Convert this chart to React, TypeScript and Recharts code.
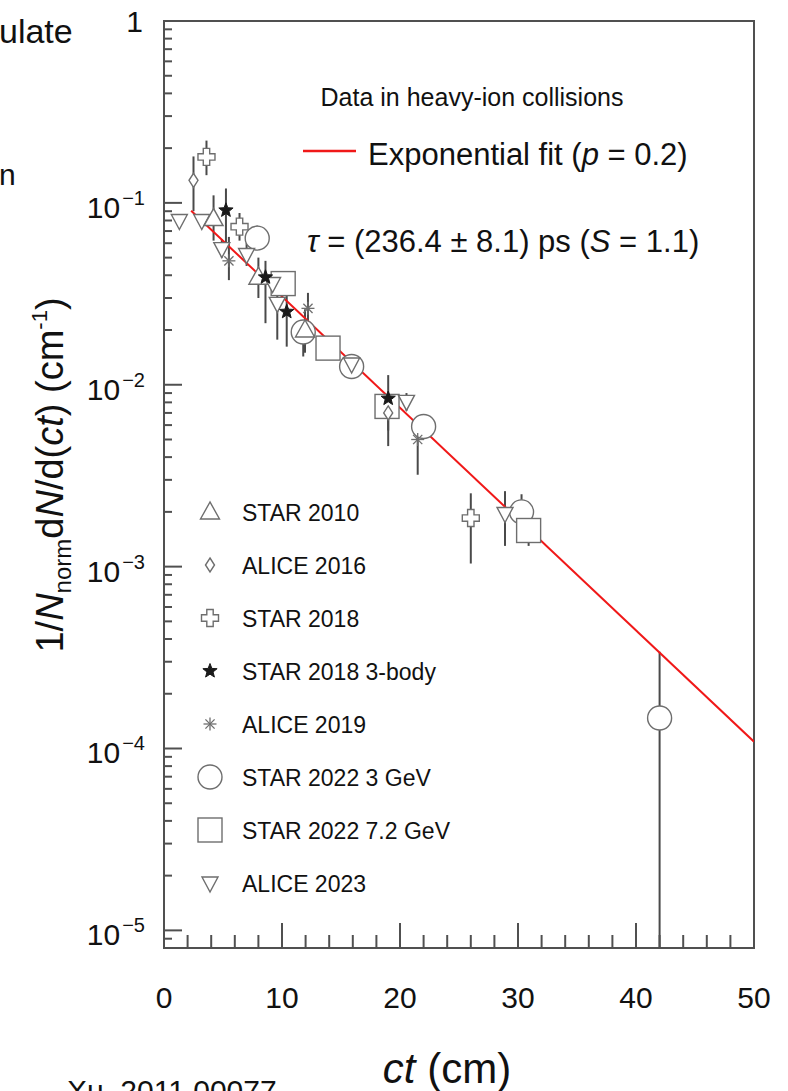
import React from 'react';
import { ComposedChart, Scatter, Line, XAxis, YAxis, ErrorBar, ReferenceArea } from 'recharts';

type Pt = [number, number, number, number];

// [ct (cm), value, lower edge of bar, upper edge of bar]
const star2010: Pt[] = [
  [4.2, 0.082, 0.062, 0.11],
  [8.0, 0.039, 0.03, 0.05],
  [11.95, 0.02, 0.015, 0.026],
];
const alice2016: Pt[] = [
  [2.5, 0.133, 0.09, 0.18],
  [19.0, 0.007, 0.0056, 0.0088],
];
const star2018: Pt[] = [
  [3.6, 0.179, 0.142, 0.22],
  [6.4, 0.074, 0.062, 0.088],
  [26.0, 0.00185, 0.00104, 0.00253],
];
const star2018Body3: Pt[] = [
  [5.25, 0.091, 0.059, 0.12],
  [8.6, 0.039, 0.0218, 0.048],
  [10.4, 0.0252, 0.0162, 0.031],
  [19.0, 0.0084, 0.0046, 0.0113],
];
const alice2019: Pt[] = [
  [5.5, 0.048, 0.0376, 0.065],
  [12.2, 0.0263, 0.0209, 0.032],
  [21.5, 0.005, 0.0032, 0.0062],
];
const star2022_3GeV: Pt[] = [
  [7.9, 0.064, 0.055, 0.075],
  [11.8, 0.0195, 0.0143, 0.022],
  [15.9, 0.0126, 0.011, 0.0145],
  [22.0, 0.0059, 0.0051, 0.0068],
  [30.3, 0.002, 0.0016, 0.0025],
  [42.0, 0.000147, 0.000008, 0.00034],
];
const star2022_72GeV: Pt[] = [
  [10.1, 0.036, 0.031, 0.041],
  [13.9, 0.0159, 0.0138, 0.0182],
  [18.9, 0.0076, 0.0066, 0.0087],
  [30.9, 0.00158, 0.0013, 0.0019],
];
const alice2023: Pt[] = [
  [1.3, 0.08, 0.078, 0.082],
  [3.2, 0.08, 0.077, 0.083],
  [4.9, 0.056, 0.05, 0.063],
  [7.0, 0.052, 0.045, 0.06],
  [9.2, 0.036, 0.032, 0.04],
  [9.6, 0.028, 0.0177, 0.0376],
  [15.9, 0.013, 0.0118, 0.0143],
  [20.55, 0.0081, 0.0072, 0.009],
  [28.9, 0.00196, 0.0013, 0.0026],
];

// exponential fit, straight on the log axis: end points
const fitLine = [
  { x: 2.3, y: 0.0905 },
  { x: 50, y: 0.000109 },
];

const xTicks = [0, 2, 4, 6, 8, 10, 12, 14, 16, 18, 20, 22, 24, 26, 28, 30, 32, 34, 36, 38, 40, 42, 44, 46, 48, 50];
const yTicks = [
  9e-6, 1e-5, 2e-5, 3e-5, 4e-5, 5e-5, 6e-5, 7e-5, 8e-5, 9e-5,
  1e-4, 2e-4, 3e-4, 4e-4, 5e-4, 6e-4, 7e-4, 8e-4, 9e-4,
  1e-3, 2e-3, 3e-3, 4e-3, 5e-3, 6e-3, 7e-3, 8e-3, 9e-3,
  1e-2, 2e-2, 3e-2, 4e-2, 5e-2, 6e-2, 7e-2, 8e-2, 9e-2,
  1e-1, 2e-1, 3e-1, 4e-1, 5e-1, 6e-1, 7e-1, 8e-1, 9e-1, 1,
];

const FONT = '"Liberation Sans", Arial, Helvetica, sans-serif';
const AXIS = '#505050';
const MARK = '#6e6e6e';

type Kind = 'tri' | 'dia' | 'cross' | 'fstar' | 'ast' | 'circ' | 'sq' | 'itri';

const series: { name: string; data: Pt[]; kind: Kind }[] = [
  { name: 'STAR 2010', data: star2010, kind: 'tri' },
  { name: 'ALICE 2016', data: alice2016, kind: 'dia' },
  { name: 'STAR 2018', data: star2018, kind: 'cross' },
  { name: 'STAR 2018 3-body', data: star2018Body3, kind: 'fstar' },
  { name: 'ALICE 2019', data: alice2019, kind: 'ast' },
  { name: 'STAR 2022 3 GeV', data: star2022_3GeV, kind: 'circ' },
  { name: 'STAR 2022 7.2 GeV', data: star2022_72GeV, kind: 'sq' },
  { name: 'ALICE 2023', data: alice2023, kind: 'itri' },
];

// big open markers first so the small ones stay visible on top
const drawOrder: Kind[] = ['circ', 'sq', 'itri', 'tri', 'cross', 'dia', 'ast', 'fstar'];

const toRows = (pts: Pt[]) => pts.map(([x, y, lo, hi]) => ({ x, y, err: [y - lo, hi - y] }));

const Marker = ({ kind, cx, cy }: { kind: Kind; cx: number; cy: number }) => {
  const common = { fill: '#fff', stroke: MARK, strokeWidth: 1.4 };
  switch (kind) {
    case 'tri':
      return <polygon points={`${cx},${cy - 10} ${cx - 9.5},${cy + 7} ${cx + 9.5},${cy + 7}`} {...common} />;
    case 'itri':
      return <polygon points={`${cx},${cy + 9} ${cx - 8},${cy - 6} ${cx + 8},${cy - 6}`} {...common} />;
    case 'dia':
      return <polygon points={`${cx},${cy - 7} ${cx + 4.5},${cy} ${cx},${cy + 7} ${cx - 4.5},${cy}`} {...common} />;
    case 'cross': {
      const a = 3.2, b = 8.5;
      const d = `M${cx - a},${cy - b}H${cx + a}V${cy - a}H${cx + b}V${cy + a}H${cx + a}V${cy + b}H${cx - a}V${cy + a}H${cx - b}V${cy - a}H${cx - a}Z`;
      return <path d={d} {...common} />;
    }
    case 'fstar': {
      const pts: string[] = [];
      for (let i = 0; i < 10; i++) {
        const r = i % 2 === 0 ? 7.5 : 3.2;
        const ang = -Math.PI / 2 + (i * Math.PI) / 5;
        pts.push(`${cx + r * Math.cos(ang)},${cy + r * Math.sin(ang)}`);
      }
      return <polygon points={pts.join(' ')} fill="#1a1a1a" stroke="#1a1a1a" strokeWidth={1} />;
    }
    case 'ast': {
      const r = 6.5, q = r * 0.707;
      return (
        <g stroke={MARK} strokeWidth={1.3}>
          <line x1={cx - r} y1={cy} x2={cx + r} y2={cy} />
          <line x1={cx} y1={cy - r} x2={cx} y2={cy + r} />
          <line x1={cx - q} y1={cy - q} x2={cx + q} y2={cy + q} />
          <line x1={cx - q} y1={cy + q} x2={cx + q} y2={cy - q} />
        </g>
      );
    }
    case 'circ':
      return <circle cx={cx} cy={cy} r={12} {...common} />;
    case 'sq':
      return <rect x={cx - 12} y={cy - 12} width={24} height={24} {...common} />;
  }
  return null;
};

const XTick = (props: any) => {
  const { x, y, payload } = props;
  const v = payload.value as number;
  const major = v % 10 === 0;
  return (
    <g>
      <line x1={x} x2={x} y1={y} y2={y - (major ? 25 : 13)} stroke={AXIS} strokeWidth={2} />
      {major && (
        <text x={x} y={y + 60} textAnchor="middle" fontSize={30} fontFamily={FONT} fill="#111">
          {v}
        </text>
      )}
    </g>
  );
};

const YTick = (props: any) => {
  const { x, y, payload } = props;
  const v = payload.value as number;
  const e = Math.log10(v);
  const major = Math.abs(e - Math.round(e)) < 1e-6;
  const exp = Math.round(e);
  return (
    <g>
      <line x1={x} x2={x + (major ? 18 : 8)} y1={y} y2={y} stroke={AXIS} strokeWidth={2} />
      {major && exp === 0 && (
        <text x={x - 21} y={y + 11} textAnchor="end" fontSize={30} fontFamily={FONT} fill="#111">1</text>
      )}
      {major && exp !== 0 && (
        <text x={x - 19} y={y + 15} textAnchor="end" fontSize={30} fontFamily={FONT} fill="#111">
          10<tspan fontSize={20} dx={2} dy={-13}>{'\u2212' + Math.abs(exp)}</tspan>
        </text>
      )}
    </g>
  );
};

const App = () => {
  const legendY0 = 512;
  const legendStep = 53;
  return (
    <div style={{ position: 'absolute', left: 0, top: 0, width: 788, height: 1091, background: '#fff', overflow: 'hidden' }}>
      <ComposedChart width={788} height={1091} margin={{ top: 21, right: 34, bottom: 0, left: 0 }}>
        <XAxis
          type="number"
          dataKey="x"
          domain={[0, 50]}
          allowDataOverflow
          ticks={xTicks}
          interval={0}
          height={143}
          axisLine={false}
          tickLine={false}
          tickSize={0}
          tickMargin={0}
          tick={XTick}
        />
        <YAxis
          type="number"
          dataKey="y"
          scale="log"
          domain={[8e-6, 1]}
          allowDataOverflow
          ticks={yTicks}
          interval={0}
          width={164}
          axisLine={false}
          tickLine={false}
          tickSize={0}
          tickMargin={0}
          tick={YTick}
        />
        <ReferenceArea x1={0} x2={50} y1={8e-6} y2={1} fill="none" stroke={AXIS} strokeWidth={2} ifOverflow="visible" />
        {drawOrder.map((k) => {
          const s = series.find((d) => d.kind === k)!;
          return (
            <Scatter
              key={s.name}
              name={s.name}
              data={toRows(s.data)}
              dataKey="y"
              isAnimationActive={false}
              shape={(p: any) => <Marker kind={s.kind} cx={p.cx} cy={p.cy} />}
            >
              <ErrorBar dataKey="err" direction="y" width={0} stroke="#4a4a4a" strokeWidth={2} isAnimationActive={false} />
            </Scatter>
          );
        })}
        <Line
          data={fitLine}
          dataKey="y"
          type="linear"
          stroke="#f01818"
          strokeWidth={2}
          dot={false}
          isAnimationActive={false}
        />
      </ComposedChart>

      <svg width={788} height={1091} style={{ position: 'absolute', left: 0, top: 0, pointerEvents: 'none' }} fontFamily={FONT}>
        {/* bits of the slide around the figure */}
        <text x={-1} y={43} fontSize={34} fill="#111">ulate</text>
        <text x={-1} y={185} fontSize={30} fill="#111">n</text>
        <text x={67} y={1101} fontSize={30} fill="#111">Xu, 2011.00077</text>

        {/* axis titles */}
        <text transform="translate(63,475) rotate(-90)" textAnchor="middle" fontSize={38} fill="#111">
          1/<tspan fontStyle="italic">N</tspan>
          <tspan fontSize={24} dy={8}>norm</tspan>
          <tspan dy={-8}>d</tspan>
          <tspan fontStyle="italic">N</tspan>/d(<tspan fontStyle="italic">ct</tspan>) (cm
          <tspan fontSize={22} dy={-16}>-1</tspan>
          <tspan dy={16}>)</tspan>
        </text>
        <text x={447} y={1083} textAnchor="middle" fontSize={42} fill="#111">
          <tspan fontStyle="italic">ct</tspan> (cm)
        </text>

        {/* header */}
        <text x={472} y={106} textAnchor="middle" fontSize={25} fill="#111">Data in heavy-ion collisions</text>
        <line x1={303} x2={356} y1={151} y2={151} stroke="#f01818" strokeWidth={2.5} />
        <text x={368} y={165} fontSize={31} fill="#111">
          Exponential fit (<tspan fontStyle="italic">p</tspan> = 0.2)
        </text>
        <text x={307} y={252} fontSize={31} fill="#111">
          <tspan fontStyle="italic">τ</tspan> = (236.4 ± 8.1) ps (<tspan fontStyle="italic">S</tspan> = 1.1)
        </text>

        {/* legend */}
        {series.map((s, i) => {
          const cy = legendY0 + i * legendStep;
          return (
            <g key={s.name}>
              <Marker kind={s.kind} cx={210} cy={cy} />
              <text x={242} y={cy + 9} fontSize={23} fill="#111">{s.name}</text>
            </g>
          );
        })}
      </svg>
    </div>
  );
};

export default App;
